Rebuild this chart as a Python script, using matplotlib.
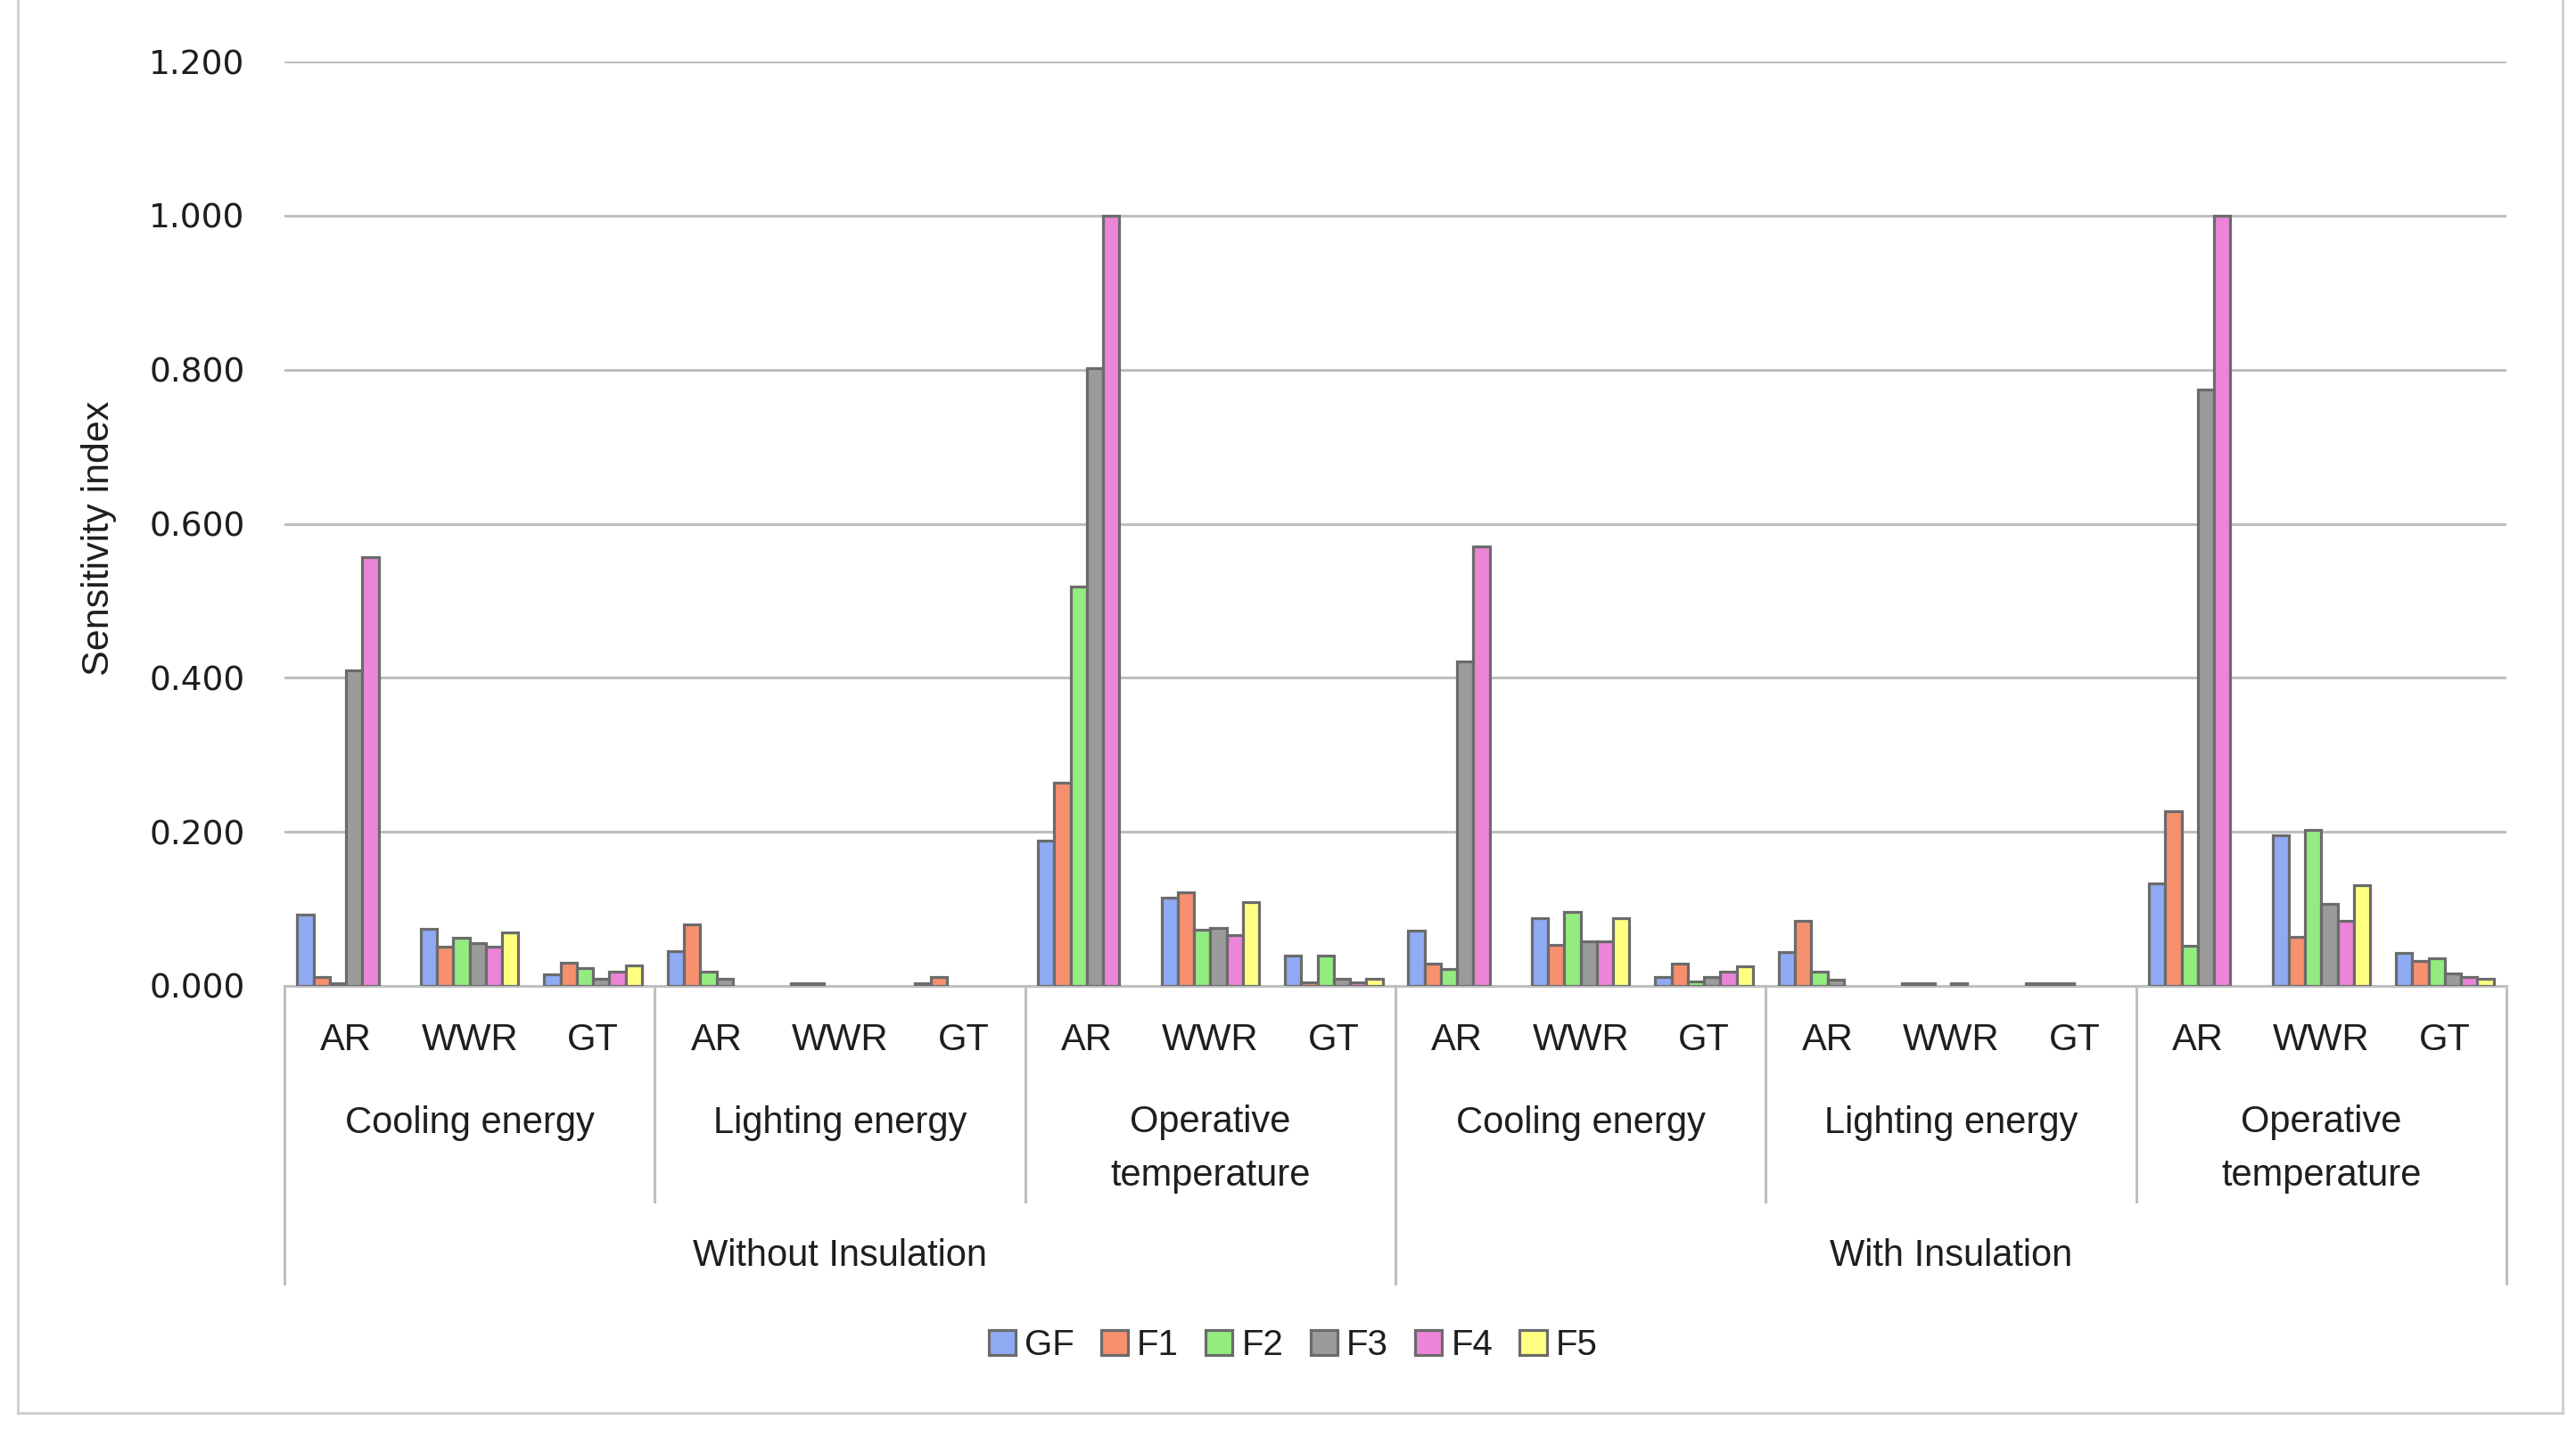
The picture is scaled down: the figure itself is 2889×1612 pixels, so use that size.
import matplotlib
matplotlib.use("Agg")
import matplotlib.pyplot as plt
import matplotlib.transforms as mtransforms
from matplotlib.patches import Rectangle
from matplotlib.lines import Line2D
import numpy as np

# ---------------- data ----------------
series = ["GF", "F1", "F2", "F3", "F4", "F5"]
params = ["AR", "WWR", "GT"]
outputs = ["Cooling energy", "Lighting energy", "Operative\ntemperature"]
scenarios = ["Without Insulation", "With Insulation"]

# 18 categories: scenario -> output -> parameter
GF = [0.092, 0.074, 0.015, 0.045, 0.003, 0.003, 0.189, 0.115, 0.039,
      0.072, 0.088, 0.011, 0.044, 0.003, 0.003, 0.133, 0.196, 0.043]
F1 = [0.012, 0.051, 0.030, 0.080, 0.003, 0.012, 0.264, 0.122, 0.005,
      0.029, 0.053, 0.029, 0.085, 0.003, 0.003, 0.227, 0.064, 0.032]
F2 = [0.003, 0.062, 0.023, 0.018, 0.000, 0.000, 0.518, 0.073, 0.039,
      0.022, 0.096, 0.006, 0.018, 0.000, 0.003, 0.052, 0.202, 0.036]
F3 = [0.410, 0.056, 0.009, 0.009, 0.000, 0.000, 0.802, 0.075, 0.009,
      0.421, 0.058, 0.011, 0.008, 0.003, 0.000, 0.774, 0.107, 0.016]
F4 = [0.557, 0.051, 0.018, 0.000, 0.000, 0.000, 1.000, 0.066, 0.005,
      0.571, 0.058, 0.018, 0.000, 0.000, 0.000, 1.000, 0.084, 0.012]
F5 = [0.000, 0.070, 0.027, 0.000, 0.000, 0.000, 0.000, 0.109, 0.009,
      0.000, 0.088, 0.026, 0.000, 0.000, 0.000, 0.000, 0.131, 0.009]
values = [GF, F1, F2, F3, F4, F5]

colors = ["#8EABF3", "#F7906F", "#93EC80", "#9B9B9B", "#EC84D8", "#FFFF80"]
edge = "#6B6B6B"
grid_c = "#BFBFBF"

W, H = 2889, 1612
fig = plt.figure(figsize=(W / 100, H / 100), dpi=100)
fig.patch.set_facecolor("white")

left_px, right_px, top_px, base_px = 319, 2811, 69, 1106
ax = fig.add_axes([left_px / W, 1 - base_px / H,
                   (right_px - left_px) / W, (base_px - top_px) / H])

cat_font = ["Liberation Sans Narrow", "Liberation Sans", "DejaVu Sans"]
tick_font = ["DejaVu Sans"]
txt_c = "#1E1E1E"

n = len(GF)
x = np.arange(n)
bw = 0.132
for i, (s, vals) in enumerate(zip(series, values)):
    v = np.array(vals, dtype=float)
    v[v == 0] = np.nan
    ax.bar(x + (i - 2.5) * bw, v, width=bw, color=colors[i],
           edgecolor=edge, linewidth=2.3, label=s, zorder=3)

ax.set_xlim(-0.5, n - 0.5)
ax.set_ylim(0, 1.2)
ax.set_yticks(np.arange(0, 1.21, 0.2))
ax.set_yticklabels([f"{v:.3f}" for v in np.arange(0, 1.21, 0.2)],
                   fontfamily=tick_font, fontsize=27, color=txt_c)
ax.tick_params(axis="y", length=0, pad=32)
ax.set_xticks([])
ax.yaxis.grid(True, color=grid_c, linewidth=2.2, zorder=0)
ax.set_axisbelow(True)
for sp in ["top", "right", "left"]:
    ax.spines[sp].set_visible(False)
ax.spines["bottom"].set_color(grid_c)
ax.spines["bottom"].set_linewidth(2.2)

# ---------------- multi-level category axis ----------------
tr = mtransforms.blended_transform_factory(ax.transData, fig.transFigure)
fy = lambda py: 1 - py / H
FS = 30

for k in range(n):
    fig.text(k, fy(1167), params[k % 3], transform=tr, ha="center",
             va="center", fontsize=FS, fontfamily=cat_font, color=txt_c)

for g in range(6):
    label = outputs[g % 3]
    yc = 1289 if "\n" in label else 1260
    fig.text(3 * g + 1, fy(yc), label, transform=tr, ha="center",
             va="center", fontsize=FS, fontfamily=cat_font, color=txt_c,
             linespacing=1.65)

for s in range(2):
    fig.text(9 * s + 4, fy(1409), scenarios[s], transform=tr, ha="center",
             va="center", fontsize=FS, fontfamily=cat_font, color=txt_c)

for xb in [2.5, 5.5, 11.5, 14.5]:
    fig.add_artist(Line2D([xb, xb], [fy(base_px), fy(1348)], transform=tr,
                          color=grid_c, linewidth=2.2))
for xb in [-0.5, 8.5, 17.5]:
    fig.add_artist(Line2D([xb, xb], [fy(base_px), fy(1440)], transform=tr,
                          color=grid_c, linewidth=2.2))

# y label
fig.text(111 / W, fy(604), "Sensitivity index", rotation=90, ha="center",
         va="center", fontsize=31, fontfamily=cat_font, color=txt_c)

# legend
handles = [Rectangle((0, 0), 1, 1, facecolor=c, edgecolor=edge, linewidth=2.3)
           for c in colors]
leg = fig.legend(handles, series, loc="center", bbox_to_anchor=(1450 / W, fy(1509)),
                 ncol=6, frameon=False, prop={"family": cat_font, "size": 29},
                 handlelength=0.75, handleheight=0.72, handletextpad=0.25,
                 columnspacing=0.75)
for t in leg.get_texts():
    t.set_color(txt_c)

# outer chart border
bc = "#D0D0D0"
fig.add_artist(Line2D([20 / W, 20 / W], [fy(0), fy(1585)], color=bc, linewidth=2.2))
fig.add_artist(Line2D([20 / W, 2874 / W], [fy(1585), fy(1585)], color=bc, linewidth=2.2))
fig.add_artist(Line2D([2874 / W, 2874 / W], [fy(0), fy(1585)], color=bc, linewidth=2.2))

fig.savefig("out.png", dpi=100, facecolor="white")
